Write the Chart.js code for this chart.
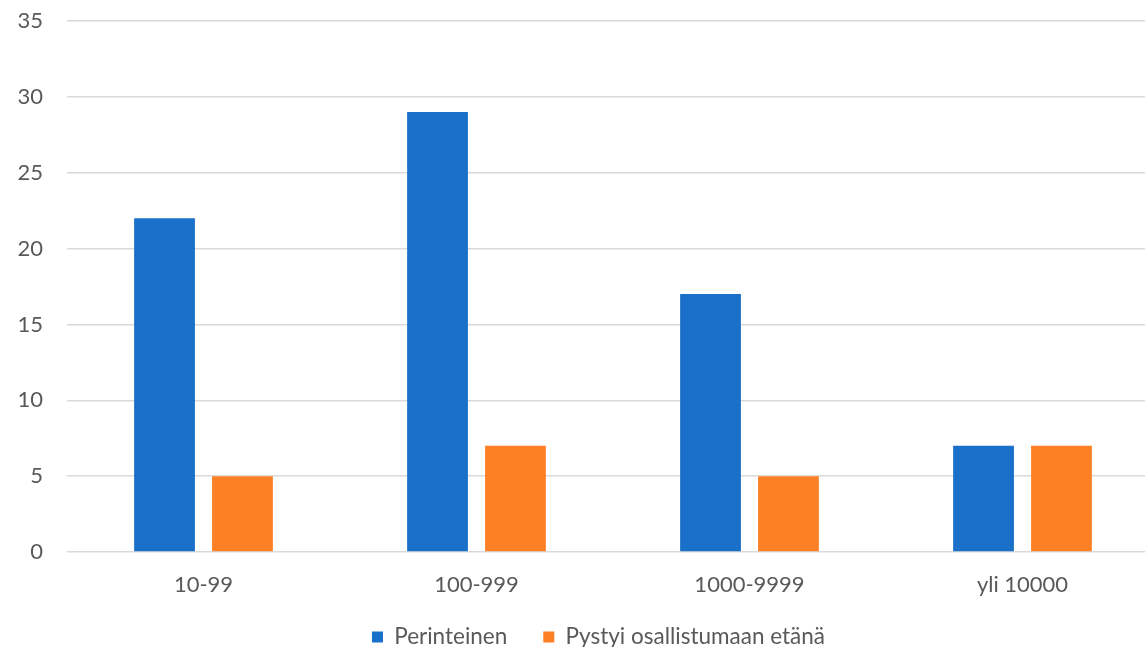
<!DOCTYPE html>
<html>
<head>
<meta charset="utf-8">
<script src="https://cdn.jsdelivr.net/npm/chart.js@4"></script>
<style>
  html, body { margin: 0; padding: 0; background: #ffffff; overflow: hidden; }
  #wrap { width: 1160px; height: 682px; }
</style>
</head>
<body>
<div id="wrap"><canvas id="c" width="1160" height="682"></canvas></div>
<script>
const categories = ['10-99', '100-999', '1000-9999', 'yli 10000'];
const perinteinen = [22, 29, 17, 7];
const etana = [5, 7, 5, 7];
const seriesNames = ['Perinteinen', 'Pystyi osallistumaan etänä'];
const yTicks = [0, 5, 10, 15, 20, 25, 30, 35];

const FONT = 'Lato';
const TEXT = '#595959';
const GRID = '#d9d9d9';

const shiftLegend = {
  id: 'shiftLegend',
  afterLayout(chart) {
    const lg = chart.legend;
    if (lg) {
      const h = lg.bottom - lg.top;
      lg.left = 38;
      lg.top = 589.75;
      lg.bottom = lg.top + h;
    }
  }
};

new Chart(document.getElementById('c'), {
  type: 'bar',
  data: {
    labels: categories,
    datasets: [
      { label: seriesNames[0], data: perinteinen, backgroundColor: '#1a70c8', categoryPercentage: 0.571, barPercentage: 0.78 },
      { label: seriesNames[1], data: etana, backgroundColor: '#fd7f26', categoryPercentage: 0.571, barPercentage: 0.78 }
    ]
  },
  plugins: [shiftLegend],
  options: {
    responsive: false,
    animation: false,
    devicePixelRatio: 1,
    layout: { padding: { left: 0, right: 1, top: 21, bottom: 1.5 } },
    plugins: {
      tooltip: { enabled: false },
      legend: {
        position: 'bottom',
        labels: {
          boxWidth: 11, boxHeight: 11, padding: 36,
          color: TEXT,
          font: { family: FONT, size: 22.5 }
        }
      }
    },
    scales: {
      x: {
        grid: { display: false, drawTicks: false },
        border: { display: false },
        ticks: { color: TEXT, font: { family: FONT, size: 22 }, padding: 19.3 },
        afterFit: s => { s.height = 60; s.paddingLeft = 0; s.paddingRight = 0; }
      },
      y: {
        min: 0, max: 35,
        afterBuildTicks: s => { s.ticks = yTicks.map(v => ({ value: v })); },
        grid: { color: GRID, lineWidth: 1.5, drawTicks: false },
        border: { display: false },
        ticks: { color: TEXT, font: { family: FONT, size: 22 }, padding: 24 },
        afterFit: s => { s.width = 67; s.paddingTop = 0; s.paddingBottom = 0; }
      }
    }
  }
});
</script>
</body>
</html>
